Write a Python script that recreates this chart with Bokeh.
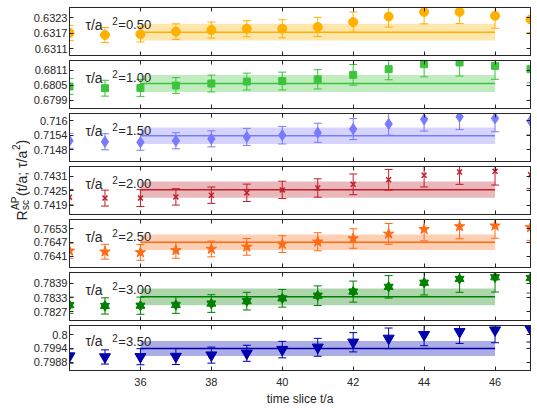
import numpy as np
from bokeh.plotting import figure
from bokeh.models import Range1d, LinearAxis, FixedTicker, Whisker, TeeHead, ColumnDataSource, Label
from bokeh.layouts import row, column
from bokeh.embed import file_html
from bokeh.resources import INLINE
from bokeh.core.properties import value

# ---------------- data ----------------
t_slices = [34, 35, 36, 37, 38, 39, 40, 41, 42, 43, 44, 45, 46, 47]
fit_range = [36, 46]
x_ticks = [36, 38, 40, 42, 44, 46]
x_limits = [34, 47]
tau_labels = ["0.50", "1.00", "1.50", "2.00", "2.50", "3.00", "3.50"]

r_050 = [0.63171, 0.63163, 0.63166, 0.63176, 0.63182, 0.63187, 0.63187, 0.63194, 0.63213, 0.63234, 0.63252, 0.63252, 0.63237, 0.63223]
e_050 = [0.00029, 0.00029, 0.00030, 0.00030, 0.00031, 0.00031, 0.00035, 0.00037, 0.00039, 0.00041, 0.00046, 0.00045, 0.00048, 0.00050]
r_100 = [0.68045, 0.68038, 0.68039, 0.68049, 0.68057, 0.68065, 0.68067, 0.68074, 0.68092, 0.68115, 0.68135, 0.68142, 0.68128, 0.68115]
e_100 = [0.00032, 0.00032, 0.00034, 0.00032, 0.00034, 0.00034, 0.00036, 0.00039, 0.00042, 0.00043, 0.00051, 0.00055, 0.00054, 0.00055]
r_150 = [0.71517, 0.71513, 0.71511, 0.71517, 0.71525, 0.71533, 0.71540, 0.71550, 0.71565, 0.71586, 0.71605, 0.71616, 0.71609, 0.71598]
e_150 = [0.00031, 0.00033, 0.00033, 0.00033, 0.00033, 0.00035, 0.00036, 0.00039, 0.00043, 0.00046, 0.00048, 0.00053, 0.00055, 0.00056]
r_200 = [0.74223, 0.74219, 0.74219, 0.74224, 0.74231, 0.74241, 0.74253, 0.74261, 0.74276, 0.74295, 0.74314, 0.74327, 0.74330, 0.74316]
e_200 = [0.00032, 0.00033, 0.00035, 0.00034, 0.00034, 0.00036, 0.00036, 0.00038, 0.00043, 0.00043, 0.00049, 0.00051, 0.00057, 0.00057]
r_250 = [0.76434, 0.76430, 0.76427, 0.76436, 0.76442, 0.76451, 0.76463, 0.76473, 0.76487, 0.76507, 0.76527, 0.76539, 0.76542, 0.76535]
e_250 = [0.00032, 0.00032, 0.00034, 0.00034, 0.00034, 0.00036, 0.00036, 0.00039, 0.00042, 0.00045, 0.00050, 0.00053, 0.00054, 0.00056]
r_300 = [0.78298, 0.78295, 0.78296, 0.78299, 0.78305, 0.78315, 0.78327, 0.78338, 0.78355, 0.78375, 0.78392, 0.78408, 0.78415, 0.78412]
e_300 = [0.00034, 0.00034, 0.00036, 0.00035, 0.00037, 0.00037, 0.00037, 0.00041, 0.00044, 0.00047, 0.00051, 0.00056, 0.00062, 0.00063]
r_350 = [0.79907, 0.79903, 0.79904, 0.79905, 0.79911, 0.79919, 0.79935, 0.79945, 0.79967, 0.79984, 0.80000, 0.80013, 0.80020, 0.80024]
e_350 = [0.00031, 0.00031, 0.00035, 0.00035, 0.00035, 0.00035, 0.00036, 0.00039, 0.00042, 0.00045, 0.00048, 0.00051, 0.00055, 0.00056]

fit_val = [0.63174, 0.68057, 0.71538, 0.74254, 0.76471, 0.78333, 0.79940]
fit_err = [0.00032, 0.00034, 0.00034, 0.00034, 0.00033, 0.00035, 0.00033]

y_ticks = [
    [0.6311, 0.6317, 0.6323],
    [0.6799, 0.6805, 0.6811],
    [0.7148, 0.7154, 0.7160],
    [0.7419, 0.7425, 0.7431],
    [0.7641, 0.7647, 0.7653],
    [0.7827, 0.7833, 0.7839],
    [0.7988, 0.7994, 0.8000],
]
y_ticklabels = [
    ["0.6311", "0.6317", "0.6323"],
    ["0.6799", "0.6805", "0.6811"],
    ["0.7148", "0.7154", "0.716"],
    ["0.7419", "0.7425", "0.7431"],
    ["0.7641", "0.7647", "0.7653"],
    ["0.7827", "0.7833", "0.7839"],
    ["0.7988", "0.7994", "0.8"],
]
y_limits = [
    [0.63084, 0.63269],
    [0.67956, 0.68150],
    [0.71432, 0.71629],
    [0.74151, 0.74350],
    [0.76362, 0.76569],
    [0.78234, 0.78435],
    [0.79844, 0.80040],
]

series = [r_050, r_100, r_150, r_200, r_250, r_300, r_350]
errors = [e_050, e_100, e_150, e_200, e_250, e_300, e_350]

# ---------------- styles ----------------
FRAME = "#262626"
FONT = "Liberation Sans"
colors = ["#FFB000", "#3CC43C", "#7A7AFF", "#BF1E2A", "#FF6A14", "#008000", "#0000B0"]
markers = [["circle"], ["square"], ["diamond"], ["x"], ["star"], ["triangle", "inverted_triangle"], ["inverted_triangle"]]
msizes = [9, 7, 11, 7, 11, 9, 11]

STRIP_W = 30
PANEL_W = 537 - STRIP_W
LEFT_B, RIGHT_B = 67 - STRIP_W, 7
FRAME_H = 48
FRAME_W = PANEL_W - LEFT_B - RIGHT_B
PX_PER_X = FRAME_W / (x_limits[1] - x_limits[0])
PX_PER_Y = [FRAME_H / (hi - lo) for lo, hi in y_limits]


def style_axis(ax, show_labels):
    ax.axis_line_color = FRAME
    ax.axis_line_width = 1
    ax.major_tick_line_color = FRAME
    ax.major_tick_in = 4
    ax.major_tick_out = 0
    ax.minor_tick_line_color = None
    ax.major_label_text_font = FONT
    ax.major_label_text_color = FRAME
    ax.major_label_text_font_size = "11px"
    if not show_labels:
        ax.major_label_text_font_size = "0px"
        ax.major_label_text_color = None
        ax.major_label_standoff = 0


panels = []
n = len(series)
for k in range(n):
    top_b = 7 if k == 0 else 3
    bot_b = 35 if k == n - 1 else 2
    p = figure(width=PANEL_W, height=top_b + FRAME_H + bot_b,
               x_range=Range1d(*x_limits), y_range=Range1d(*y_limits[k]),
               x_axis_location=None, y_axis_location=None,
               toolbar_location=None, output_backend="svg",
               min_border_left=LEFT_B, min_border_right=RIGHT_B,
               min_border_top=top_b, min_border_bottom=bot_b)
    p.grid.visible = False
    p.outline_line_color = FRAME
    p.background_fill_color = "white"
    p.border_fill_color = "white"

    # axes
    yl = LinearAxis(ticker=FixedTicker(ticks=y_ticks[k]),
                    major_label_overrides={t: l for t, l in zip(y_ticks[k], y_ticklabels[k])})
    style_axis(yl, True)
    yl.major_label_standoff = 2
    p.add_layout(yl, "left")
    yr = LinearAxis(ticker=FixedTicker(ticks=y_ticks[k]))
    style_axis(yr, False)
    p.add_layout(yr, "right")
    xt = LinearAxis(ticker=FixedTicker(ticks=x_ticks))
    style_axis(xt, False)
    p.add_layout(xt, "above")
    xb = LinearAxis(ticker=FixedTicker(ticks=x_ticks))
    if k == n - 1:
        style_axis(xb, True)
        xb.major_label_standoff = 7
        xb.axis_label = "time slice t/a"
        xb.axis_label_text_font = FONT
        xb.axis_label_text_font_size = "12px"
        xb.axis_label_text_font_style = "normal"
        xb.axis_label_text_color = FRAME
        xb.axis_label_standoff = 3
    else:
        style_axis(xb, False)
    p.add_layout(xb, "below")

    c = colors[k]
    v, e = fit_val[k], fit_err[k]
    # fit band and line
    p.quad(left=[fit_range[0]], right=[fit_range[1]], bottom=[v - e], top=[v + e],
           fill_color=c, fill_alpha=0.32, line_color=None)
    p.segment(x0=[fit_range[0]], y0=[v], x1=[fit_range[1]], y1=[v], line_color=c, line_width=1.5)

    ys = np.array(series[k])
    es = np.array(errors[k])
    src = ColumnDataSource(dict(x=t_slices, y=ys, lo=ys - es, hi=ys + es))
    w = Whisker(source=src, base="x", upper="hi", lower="lo", line_color=c, line_width=1,
                upper_head=TeeHead(size=8, line_color=c, line_width=1),
                lower_head=TeeHead(size=8, line_color=c, line_width=1))
    p.add_layout(w)
    for m in markers[k]:
        if m == "x":
            p.scatter("x", "y", source=src, marker=m, size=msizes[k], line_color=c, line_width=1.5)
        else:
            p.scatter("x", "y", source=src, marker=m, size=msizes[k], fill_color=c, line_color=c)

    # panel label  tau/a^2 = ...  (placed by pixel distance from the frame's top-left corner)
    ytop = y_limits[k][1]
    for txt, dx, dy, fs in [("τ/a", 16, 17, "14px"), ("2", 43, 13, "10px"),
                            ("=" + tau_labels[k], 49, 17, "13px")]:
        p.add_layout(Label(x=x_limits[0] + dx / PX_PER_X, y=ytop - dy / PX_PER_Y[k],
                           x_units="data", y_units="data", text=txt,
                           text_font=FONT, text_font_size=fs,
                           text_color=FRAME, text_baseline="alphabetic", text_align="left"))
    panels.append(p)

# ---------------- y-axis title strip ----------------
lab = figure(width=STRIP_W, height=408, x_range=Range1d(0, STRIP_W), y_range=Range1d(0, 408),
             x_axis_location=None, y_axis_location=None, toolbar_location=None,
             output_backend="svg", min_border=0)
lab.grid.visible = False
lab.outline_line_color = None
ang = np.pi / 2
pieces = [
    ("R", 21, 188, "14px"),
    ("AP", 15, 198.5, "10px"),
    ("sc", 24.5, 198.5, "10px"),
    ("(t/a; τ/a", 21, 212.5, "14px"),
    ("2", 15, 258.5, "10px"),
    (")", 21, 264, "14px"),
]
for txt, xx, yy, fs in pieces:
    lab.text(x=[xx], y=[yy], text=[txt], angle=ang, text_font=value(FONT), text_font_size=fs,
             text_color=FRAME, text_baseline="alphabetic", text_align="left")

layout = row(lab, column(*panels, spacing=0), spacing=0)

with open("out.html", "w") as f:
    f.write(file_html(layout, INLINE))
